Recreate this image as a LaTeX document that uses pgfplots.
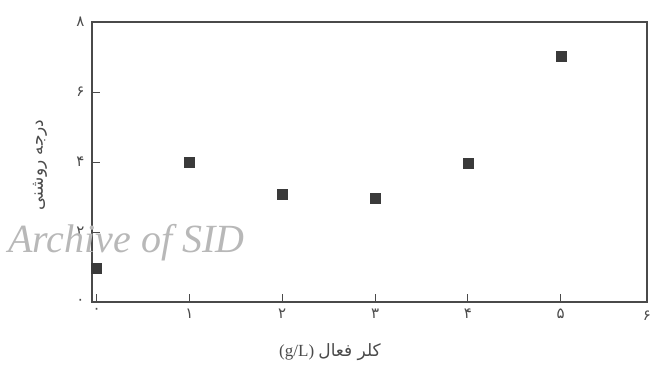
\documentclass[border=0pt]{standalone}
\usepackage{fontspec}
\setmainfont{Liberation Serif}
\newfontfamily\arabicfont[Script=Arabic]{DejaVu Sans}
\usepackage{pgfplots}
\pgfplotsset{compat=1.18}
\TeXXeTstate=1
\definecolor{axisgray}{HTML}{4A4A4A}
\definecolor{markgray}{HTML}{3A3A3A}
\definecolor{wm}{HTML}{B8B8B8}
\begin{document}
\begin{tikzpicture}[x=1pt,y=1pt]
\useasboundingbox (-92,-70) rectangle (560,302);
\begin{axis}[at={(0,0)},anchor=south west,
  scale only axis, width=555pt, height=280pt,
  xmin=-0.05, xmax=5.93, ymin=0, ymax=8,
  xtick={0,1,2,3,4,5},
  xticklabels={{\arabicfont ٠},{\arabicfont ١},{\arabicfont ٢},{\arabicfont ٣},{\arabicfont ۴},{\arabicfont ۵}},
  ytick={0,2,4,6,8},
  yticklabels={{\arabicfont ٠},{\arabicfont ٢},{\arabicfont ۴},{\arabicfont ۶},{\arabicfont ٨}},
  tick align=inside, xtick pos=bottom, ytick pos=left,
  major tick length=8pt,
  axis line style={axisgray, line width=1.2pt},
  every tick/.style={axisgray, line width=0.9pt},
  ticklabel style={font=\fontsize{15}{17}\selectfont, text=axisgray},
  xticklabel style={yshift=-3pt},
  yticklabel style={xshift=-4pt},
  clip=false]
\addplot[only marks, mark=square*, mark size=5pt, mark options={fill=markgray, draw=markgray}]
  coordinates {(0,0.97) (1,4.0) (2,3.09) (3,2.97) (4,3.97) (5,7.03)};
\node[anchor=north, font=\fontsize{15}{17}\selectfont, text=axisgray, yshift=-5pt] at (rel axis cs:1,0) {\arabicfont ۶};
\end{axis}
\node[rotate=90, font=\fontsize{17}{19}\selectfont, text=axisgray] at (-52,137) {\arabicfont\beginR درجه روشنی\endR};
\node[font=\fontsize{17}{19}\selectfont, text=axisgray] at (238,-50) {(g/L)~{\arabicfont\beginR کلر فعال\endR}};
\node[anchor=base west, font=\fontsize{40}{44}\selectfont\itshape, text=wm, inner sep=0pt] at (-84,50) {Archive of SID};
\end{tikzpicture}
\end{document}
